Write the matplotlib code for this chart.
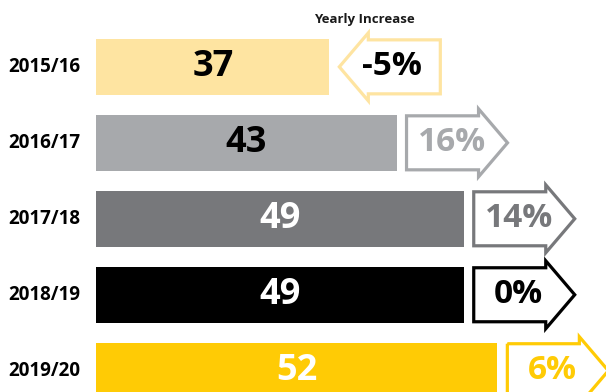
import matplotlib.pyplot as plt
from matplotlib.patches import Polygon

plt.rcParams['font.family'] = ['Open Sans', 'DejaVu Sans']

seasons = ["2015/16", "2016/17", "2017/18", "2018/19", "2019/20"]
values = [37, 43, 49, 49, 52]
changes = ["-5%", "16%", "14%", "0%", "6%"]

bar_colors = ["#fee4a1", "#a7a9ac", "#77787b", "#000000", "#ffcb05"]
value_colors = ["#000000", "#000000", "#ffffff", "#ffffff", "#ffffff"]
change_colors = ["#000000", "#a7a9ac", "#77787b", "#000000", "#ffcb05"]

W, H = 606, 392
fig = plt.figure(figsize=(W / 100, H / 100), dpi=100)
ax = fig.add_axes([0, 0, 1, 1])

# bars start at a non-zero baseline
base = 16.2
x_lo, x_hi = 7.6, 61.7
y_top, y_bot = -0.88, 4.28
ax.set_xlim(x_lo, x_hi)
ax.set_ylim(y_bot, y_top)
ax.axis('off')

# pixel -> data conversion for the arrow shapes
sx = W / (x_hi - x_lo)
sy = H / (y_bot - y_top)


def px(d):
    return d / sx


def py(d):
    return d / sy


rows = list(range(len(values)))
ax.barh(rows, [v - base for v in values], left=base, height=py(56),
        color=bar_colors, zorder=2)

for i, v in enumerate(values):
    mid = base + (v - base) / 2
    ax.text(mid, i, str(v), ha='center', va='center', fontsize=26,
            fontweight='bold', color=value_colors[i])
    ax.text(base - px(88), i, seasons[i], ha='left', va='center', fontsize=13.5,
            fontweight='bold', color='#000000')


def arrow(x0, y, color, left=False):
    # outline of a block arrow, offsets in pixels
    pts = [(0, -27), (72, -27), (72, -34), (101, 0), (72, 34), (72, 27), (0, 27)]
    if left:
        pts = [(101 - a, b) for a, b in pts]
    verts = [(x0 + px(a), y + py(b)) for a, b in pts]
    ax.add_patch(Polygon(verts, closed=True, fill=False, edgecolor=color,
                         linewidth=2.3, joinstyle='miter', zorder=3))


for i, v in enumerate(values):
    x0 = v + px(10)
    neg = changes[i].startswith('-')
    arrow(x0, i, bar_colors[i], left=neg)
    tx = x0 + px(53) if neg else x0 + px(45)
    ax.text(tx, i, changes[i], ha='center', va='center', fontsize=24,
            fontweight='bold', color=change_colors[i])

ax.text(base + px(268), py(20) + y_top, "Yearly Increase", ha='center',
        va='center', fontsize=9.5, fontweight='bold', color='#1a1a1a')

fig.savefig("out.png", dpi=100, facecolor='white')
